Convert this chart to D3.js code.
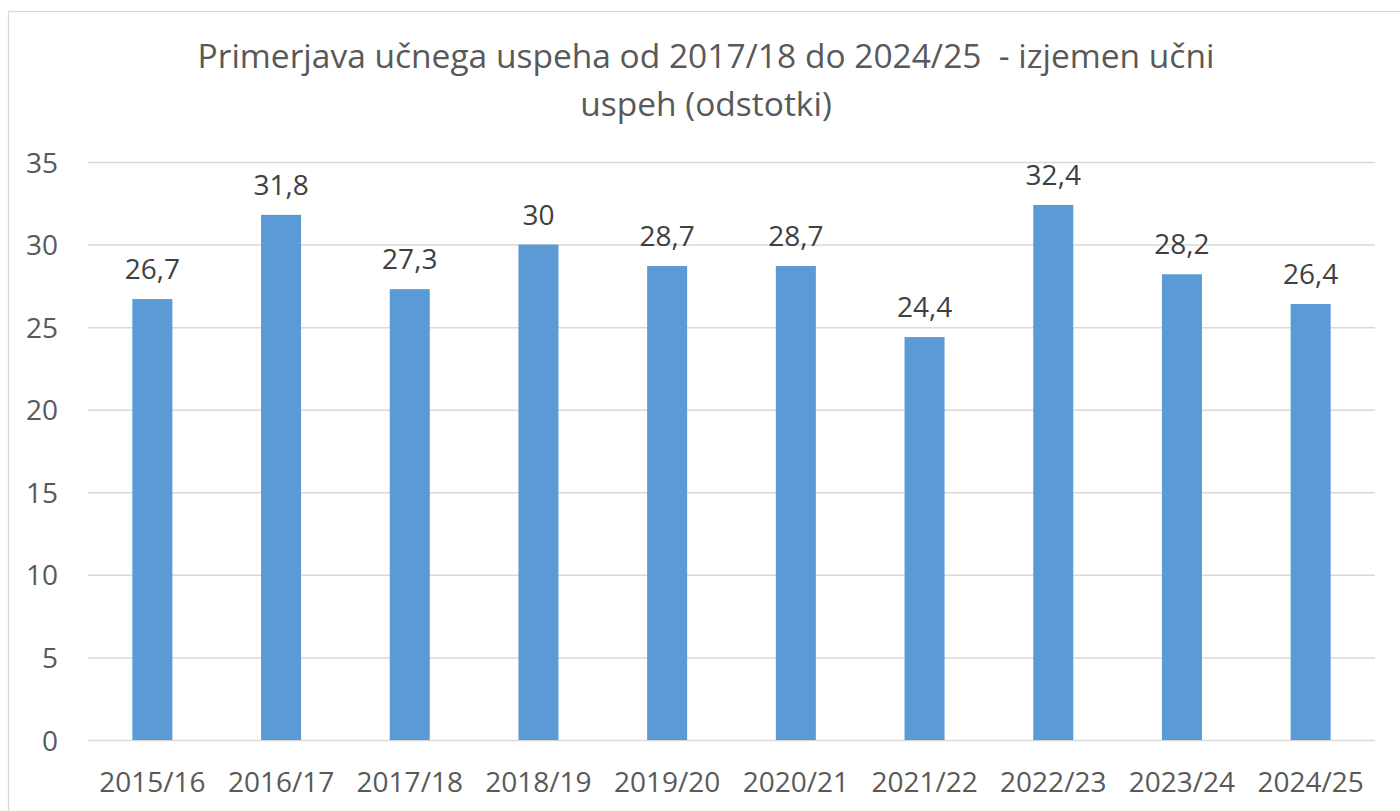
<!DOCTYPE html>
<html>
<head>
<meta charset="utf-8">
<script src="https://cdn.jsdelivr.net/npm/d3@7"></script>
<style>
  body { margin: 0; background: #fff; }
  svg { display: block; font-family: "Open Sans", "Noto Sans", sans-serif; }
</style>
</head>
<body>
<svg id="chart" width="1400" height="811"></svg>
<script>
const years = ['2015/16', '2016/17', '2017/18', '2018/19', '2019/20', '2020/21', '2021/22', '2022/23', '2023/24', '2024/25'];
const values = [26.7, 31.8, 27.3, 30, 28.7, 28.7, 24.4, 32.4, 28.2, 26.4];
const yTicks = [0, 5, 10, 15, 20, 25, 30, 35];
const titleLines = ['Primerjava učnega uspeha od 2017/18 do 2024/25  - izjemen učni', 'uspeh (odstotki)'];

const font = '"Open Sans", "Noto Sans", sans-serif';
const svg = d3.select('#chart');

// outer chart frame
svg.append('rect')
    .attr('x', 8.5).attr('y', 11.5)
    .attr('width', 1400).attr('height', 820)
    .attr('fill', 'none').attr('stroke', '#d9d9d9').attr('stroke-width', 1.3);

const plot = { left: 88, right: 1375, top: 162, bottom: 740 };

const x = d3.scaleBand()
    .domain(years)
    .range([plot.left, plot.right])
    .paddingInner(0.689)
    .paddingOuter(0.3445);

const y = d3.scaleLinear()
    .domain([0, 35])
    .range([plot.bottom, plot.top]);

// gridlines
svg.append('g')
    .selectAll('line')
    .data(yTicks)
    .join('line')
    .attr('x1', plot.left).attr('x2', plot.right)
    .attr('y1', d => y(d) + 0.5).attr('y2', d => y(d) + 0.5)
    .attr('stroke', '#d9d9d9').attr('stroke-width', 1.5);

// y axis labels
const yAxis = svg.append('g')
    .attr('transform', `translate(${plot.left - 30},0)`)
    .call(d3.axisLeft(y).tickValues(yTicks).tickSize(0).tickPadding(0))
    .attr('font-family', font)
    .attr('font-size', 28);
yAxis.select('.domain').remove();
yAxis.selectAll('text').attr('fill', '#595959').attr('dy', '0.36em');

// x axis labels
const xAxis = svg.append('g')
    .attr('transform', `translate(0,${plot.bottom})`)
    .call(d3.axisBottom(x).tickSize(0).tickPadding(0))
    .attr('font-family', font)
    .attr('font-size', 28);
xAxis.select('.domain').remove();
xAxis.selectAll('text').attr('fill', '#595959').attr('dy', 52);

// bars
svg.append('g')
    .selectAll('rect')
    .data(values)
    .join('rect')
    .attr('x', (d, i) => x(years[i]))
    .attr('y', d => y(d))
    .attr('width', x.bandwidth())
    .attr('height', d => y(0) - y(d))
    .attr('fill', '#5b9bd5');

// data labels
svg.append('g')
    .selectAll('text')
    .data(values)
    .join('text')
    .attr('x', (d, i) => x(years[i]) + x.bandwidth() / 2)
    .attr('y', d => y(d) - 20)
    .attr('text-anchor', 'middle')
    .attr('font-size', 28).attr('fill', '#404040')
    .text(d => String(d).replace('.', ','));

// title
svg.append('g')
    .selectAll('text')
    .data(titleLines)
    .join('text')
    .attr('x', 706)
    .attr('y', (d, i) => 68 + i * 48)
    .attr('text-anchor', 'middle')
    .attr('font-size', 33.5).attr('fill', '#595959')
    .style('white-space', 'pre')
    .text(d => d);
</script>
</body>
</html>
